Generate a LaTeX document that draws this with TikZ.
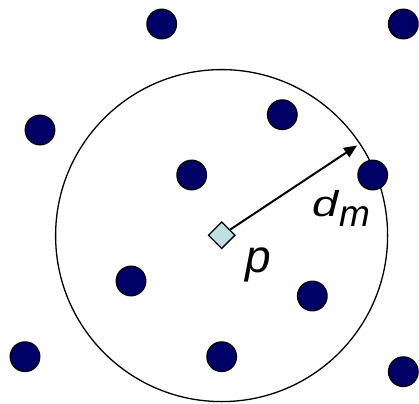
\documentclass[tikz,border=0pt]{standalone}
\usepackage{fontspec}
\setmainfont{Liberation Sans}
\usetikzlibrary{shapes.geometric,arrows.meta}
\definecolor{dotblue}{RGB}{0,0,102}
\definecolor{pcyan}{RGB}{190,224,226}
\begin{document}
\begin{tikzpicture}[x=1pt,y=-1pt,
  dot/.style={circle,draw=black,line width=1.3pt,fill=dotblue,minimum size=29.6pt,inner sep=0pt},
  query/.style={diamond,draw=black,line width=1.3pt,fill=pcyan,minimum width=27pt,minimum height=27pt,inner sep=0pt},
  rng/.style={draw=black,line width=1.3pt},
  lbl/.style={inner sep=0pt,outer sep=0pt,anchor=base west}]
\useasboundingbox (0,0) rectangle (419,403);
\node[rng,circle,minimum size=332pt,inner sep=0pt] (range) at (221.6,235.6) {};
\node[dot] (a1) at (161.7,24) {};
\node[dot] (a2) at (403.3,24) {};
\node[dot] (a3) at (40,130) {};
\node[dot] (a4) at (282.3,114.7) {};
\node[dot] (a5) at (191.7,175) {};
\node[dot] (a6) at (372.7,175) {};
\node[dot] (a7) at (131,281) {};
\node[dot] (a8) at (312.3,296) {};
\node[dot] (a9) at (25,356.7) {};
\node[dot] (a10) at (221.7,356.7) {};
\node[dot] (a11) at (403.3,371.7) {};
\node[query] (p) at (221.7,235.2) {};
\coordinate (tip) at (357,145.5);
\draw[line width=2pt,-{Triangle[length=13pt,width=11pt]}] (p) -- (tip);
\node[lbl,font=\itshape\fontsize{36}{36}\selectfont] (d) at (312,216.7) {\scalebox{1.3}[1]{d}};
\node[lbl,font=\itshape\fontsize{37}{37}\selectfont] (m) at (339,226.7) {m};
\node[lbl,font=\itshape\fontsize{46}{46}\selectfont] (plabel) at (245,272) {p};
\end{tikzpicture}
\end{document}
